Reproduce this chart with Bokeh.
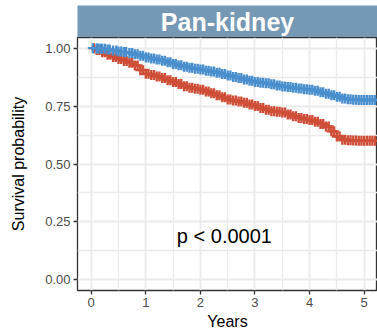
import numpy as np
from bokeh.plotting import figure
from bokeh.layouts import column
from bokeh.models import FixedTicker, Range1d
from bokeh.core.properties import value
from bokeh.embed import file_html
from bokeh.resources import INLINE

# ---- data ----
panel_title = "Pan-kidney"
p_text = "p < 0.0001"
x_ticks = [0, 1, 2, 3, 4, 5]
y_ticks = [0.0, 0.25, 0.5, 0.75, 1.0]
y_tick_labels = {0.0: "0.00", 0.25: "0.25", 0.5: "0.50", 0.75: "0.75", 1.0: "1.00"}

blue_t = [0.0, 0.1, 0.2, 0.3, 0.4, 0.5, 0.6, 0.7, 0.8, 0.9, 1.0, 1.1, 1.2, 1.3, 1.4,
          1.5, 1.6, 1.7, 1.8, 1.9, 2.0, 2.1, 2.2, 2.3, 2.4, 2.5, 2.6, 2.7, 2.8, 2.9,
          3.0, 3.1, 3.2, 3.3, 3.4, 3.5, 3.6, 3.7, 3.8, 3.9, 4.0, 4.1, 4.2, 4.3, 4.4,
          4.5, 4.6, 4.7, 4.8, 4.9, 5.0, 5.1, 5.2]
blue_s = [1.000, 0.999, 0.997, 0.994, 0.990, 0.986, 0.983, 0.979, 0.974, 0.967,
          0.960, 0.955, 0.951, 0.946, 0.939, 0.932, 0.926, 0.920, 0.915, 0.911,
          0.908, 0.903, 0.899, 0.894, 0.888, 0.882, 0.876, 0.871, 0.865, 0.859,
          0.854, 0.851, 0.848, 0.844, 0.839, 0.835, 0.832, 0.829, 0.826, 0.823,
          0.821, 0.816, 0.810, 0.803, 0.797, 0.790, 0.783, 0.779, 0.777, 0.776,
          0.776, 0.776, 0.776]

red_t = [0.0, 0.1, 0.2, 0.3, 0.4, 0.5, 0.6, 0.7, 0.8, 0.9, 1.0, 1.1, 1.2, 1.3, 1.4,
         1.5, 1.6, 1.7, 1.8, 1.9, 2.0, 2.1, 2.2, 2.3, 2.4, 2.5, 2.6, 2.7, 2.8, 2.9,
         3.0, 3.1, 3.2, 3.3, 3.4, 3.5, 3.6, 3.7, 3.8, 3.9, 4.0, 4.1, 4.2, 4.3, 4.4,
         4.5, 4.6, 4.7, 4.8, 4.9, 5.0, 5.1, 5.2]
red_s = [1.000, 0.992, 0.982, 0.972, 0.962, 0.953, 0.945, 0.937, 0.925, 0.905,
         0.889, 0.884, 0.878, 0.871, 0.862, 0.854, 0.845, 0.836, 0.829, 0.825,
         0.821, 0.813, 0.805, 0.797, 0.788, 0.778, 0.774, 0.770, 0.764, 0.757,
         0.750, 0.742, 0.734, 0.728, 0.725, 0.722, 0.714, 0.706, 0.699, 0.694,
         0.690, 0.682, 0.673, 0.662, 0.641, 0.619, 0.605, 0.602, 0.601, 0.600,
         0.600, 0.600, 0.600]

# censoring times (dense "+" marks along each curve)
blue_cens = [0.03, 0.12, 0.17, 0.25, 0.34, 0.46, 0.55, 0.64, 0.75, 0.85, 0.95, 1.05,
             1.15, 1.25, 1.35, 1.45, 1.55, 1.65, 1.75, 1.85, 1.95, 2.05, 2.15, 2.25,
             2.35, 2.45, 2.55, 2.65, 2.75, 2.85, 2.95, 3.05, 3.15, 3.25, 3.35, 3.45,
             3.55, 3.65, 3.75, 3.85, 3.95, 4.05, 4.15, 4.25, 4.35, 4.45, 4.55, 4.65,
             4.75, 4.85, 4.95, 5.05, 5.15]
red_cens = [0.05, 0.15, 0.25, 0.35, 0.45, 0.55, 0.65, 0.75, 0.85, 0.95, 1.05, 1.15,
            1.25, 1.35, 1.45, 1.55, 1.65, 1.75, 1.85, 1.95, 2.05, 2.15, 2.25, 2.35,
            2.45, 2.55, 2.65, 2.75, 2.85, 2.95, 3.05, 3.15, 3.25, 3.35, 3.45, 3.55,
            3.65, 3.75, 3.85, 3.95, 4.05, 4.15, 4.25, 4.35, 4.45, 4.55, 4.65, 4.75,
            4.85, 4.95, 5.05, 5.15]

BLUE = "#4A8FCD"
RED = "#CF4E37"
STRIP = "#7598B5"
FONT = "Liberation Sans"


def on_curve(times, ts, ss):
    idx = np.searchsorted(np.array(ts), np.array(times), side="right") - 1
    return list(np.array(ss)[idx])


# ---- strip (facet header) ----
strip = figure(width=377, height=37, x_range=Range1d(0, 1), y_range=Range1d(0, 1),
               output_backend="svg", toolbar_location=None,
               x_axis_location=None, y_axis_location=None,
               min_border_left=77, min_border_right=0, min_border_top=5, min_border_bottom=0)
strip.background_fill_color = STRIP
strip.border_fill_color = "white"
strip.outline_line_color = None
strip.grid.visible = False
strip.text(x=[0.5], y=[0.47], text=[panel_title], text_align="center", text_baseline="middle",
           text_color="white", text_font=value(FONT), text_font_style="bold",
           text_font_size="25px")

# ---- main panel ----
p = figure(width=377, height=295, x_range=Range1d(-0.251, 5.244), y_range=Range1d(-0.046, 1.046),
           output_backend="svg", toolbar_location=None,
           min_border_left=77, min_border_right=0, min_border_top=0, min_border_bottom=42)
p.background_fill_color = "white"
p.border_fill_color = "white"
p.outline_line_color = "#333333"
p.outline_line_width = 1.3

p.xaxis.ticker = FixedTicker(ticks=x_ticks, minor_ticks=[-0.5, 0.5, 1.5, 2.5, 3.5, 4.5])
p.yaxis.ticker = FixedTicker(ticks=y_ticks, minor_ticks=[0.125, 0.375, 0.625, 0.875])
p.yaxis.major_label_overrides = y_tick_labels

for g in (p.xgrid, p.ygrid):
    g.grid_line_color = "#EBEBEB"
    g.grid_line_width = 1.8
    g.minor_grid_line_color = "#EBEBEB"
    g.minor_grid_line_width = 1.3

for ax in (p.xaxis, p.yaxis):
    ax.axis_line_color = None
    ax.major_tick_line_color = "#333333"
    ax.major_tick_line_width = 1.3
    ax.major_tick_in = 0
    ax.major_tick_out = 4
    ax.minor_tick_line_color = None
    ax.major_label_text_font = FONT
    ax.major_label_text_font_size = "13px"
    ax.major_label_text_color = "#4D4D4D"
    ax.major_label_standoff = 3
    ax.axis_label_text_font = FONT
    ax.axis_label_text_font_size = "16px"
    ax.axis_label_text_font_style = "normal"
    ax.axis_label_text_color = "black"

p.xaxis.axis_label = "Years"
p.xaxis.axis_label_standoff = 3
p.yaxis.axis_label = "Survival probability"
p.yaxis.axis_label_standoff = 15

for t, s, cens, c in ((red_t, red_s, red_cens, RED), (blue_t, blue_s, blue_cens, BLUE)):
    p.step(t, s, mode="after", line_color=c, line_width=2.2)
    p.scatter(t[1:], s[1:], marker="cross", size=10, line_color=c, line_width=2.4)
    p.scatter(cens, on_curve(cens, t, s), marker="cross", size=10, line_color=c, line_width=2.4)

p.text(x=[2.44], y=[0.191], text=[p_text], text_align="center", text_baseline="middle",
       text_color="black", text_font=value(FONT), text_font_size="20px")

layout = column(strip, p, spacing=0)
open("out.html", "w").write(file_html(layout, INLINE))
